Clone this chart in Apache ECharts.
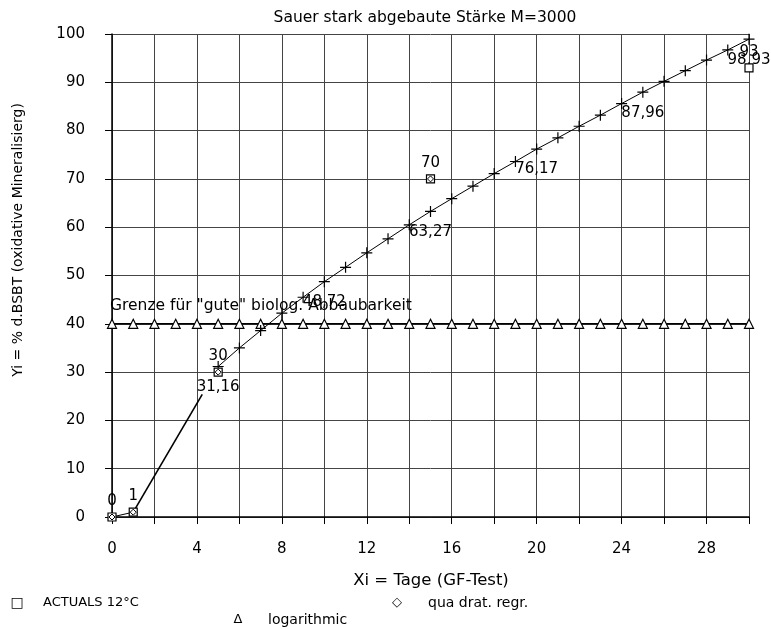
<!DOCTYPE html>
<html>
<head>
<meta charset="utf-8">
<script src="https://cdn.jsdelivr.net/npm/echarts@6/dist/echarts.min.js"></script>
<style>
html,body{margin:0;padding:0;background:#fff;}
#main{width:771px;height:629px;}
</style>
</head>
<body>
<div id="main"></div>
<script>
// ---- data ----
const actualX = [0, 1, 5, 15, 30];
const actualY = [0, 1, 30, 70, 93];
const regrX = [0, 1, 5, 15];
const regrY = [0, 1, 30, 70];
const logX = [0,1,2,3,4,5,6,7,8,9,10,11,12,13,14,15,16,17,18,19,20,21,22,23,24,25,26,27,28,29,30];
const logY = [40,40,40,40,40,40,40,40,40,40,40,40,40,40,40,40,40,40,40,40,40,40,40,40,40,40,40,40,40,40,40];
const curveX = [5,6,7,8,9,10,11,12,13,14,15,16,17,18,19,20,21,22,23,24,25,26,27,28,29,30];
const curveY = [31.16,35.0,38.6,42.2,45.5,48.72,51.7,54.7,57.6,60.5,63.27,65.9,68.5,71.1,73.6,76.17,78.5,80.9,83.2,85.6,87.96,90.2,92.4,94.6,96.7,98.93];
const labelledX = [5, 10, 15, 20, 25, 30];
const leadX = [0, 1];
const leadY = [0, 1];
const trendX = [1, 4.25];
const trendY = [1, 25.4];
const xTicks = [0, 4, 8, 12, 16, 20, 24, 28];

const FONT = 'DejaVu Sans';
const zip = (xs, ys) => xs.map((x, i) => [x, ys[i]]);

const chart = echarts.init(document.getElementById('main'), null, {renderer: 'canvas'});
const plus = 'path://M0,5L10,5M5,0L5,10';

const lbl = {color: '#000', opacity: 1, textBorderWidth: 0, fontFamily: FONT, fontSize: 15};

chart.setOption({
  animation: false,
  backgroundColor: '#fff',
  grid: {left: 112, right: 22, top: 34, bottom: 112, containLabel: false},
  xAxis: {
    type: 'value', min: 0, max: 30, interval: 2,
    axisLine: {show: true, onZero: false, lineStyle: {color: '#000', width: 1.5}},
    axisTick: {show: true, inside: false, length: 7, lineStyle: {color: '#000', width: 1}},
    axisLabel: {
      margin: 25, color: '#000', fontFamily: FONT, fontSize: 15,
      formatter: v => xTicks.indexOf(v) >= 0 ? String(v) : ''
    },
    splitLine: {show: true, lineStyle: {color: '#444', width: 1}}
  },
  yAxis: {
    type: 'value', min: 0, max: 100, interval: 10,
    axisLine: {show: true, lineStyle: {color: '#000', width: 1.5}},
    axisTick: {show: true, inside: false, length: 7, lineStyle: {color: '#000', width: 1}},
    axisLabel: {margin: 27, color: '#000', fontFamily: FONT, fontSize: 15},
    splitLine: {show: true, lineStyle: {color: '#444', width: 1}}
  },
  series: [
    {
      name: 'logarithmic', type: 'line', data: zip(logX, logY),
      symbol: 'triangle', symbolSize: 9, showAllSymbol: true,
      lineStyle: {color: '#000', width: 1.5},
      itemStyle: {color: '#fff', borderColor: '#000', borderWidth: 1.2},
      z: 3
    },
    {
      name: 'lead', type: 'line', data: zip(leadX, leadY), symbol: 'none',
      lineStyle: {color: '#000', width: 1}, z: 3
    },
    {
      name: 'trend', type: 'line', data: zip(trendX, trendY), symbol: 'none',
      lineStyle: {color: '#000', width: 1.6}, z: 3
    },
    {
      name: 'qua drat. regr. curve', type: 'line', data: zip(curveX, curveY),
      symbol: plus, symbolSize: 11, showAllSymbol: true,
      lineStyle: {color: '#000', width: 1},
      itemStyle: {color: 'none', borderColor: '#000', borderWidth: 1.2},
      label: Object.assign({
        show: true, position: 'bottom', distance: 5,
        formatter: p => labelledX.indexOf(p.value[0]) >= 0 ? p.value[1].toFixed(2).replace('.', ',') : ''
      }, lbl),
      z: 4
    },
    {
      name: 'ACTUALS 12°C', type: 'scatter', data: zip(actualX, actualY),
      symbol: 'rect', symbolSize: 8,
      itemStyle: {color: '#fff', borderColor: '#000', borderWidth: 1.2, opacity: 1},
      label: Object.assign({
        show: true, position: 'top', distance: 4,
        formatter: p => String(p.value[1])
      }, lbl),
      z: 5
    },
    {
      name: 'qua drat. regr.', type: 'scatter', data: zip(regrX, regrY),
      symbol: 'diamond', symbolSize: 6,
      itemStyle: {color: '#fff', borderColor: '#000', borderWidth: 1, opacity: 1},
      z: 6
    }
  ],
  graphic: [
    {type: 'text', x: 425, y: 18, style: {text: 'Sauer stark abgebaute Stärke M=3000', fontFamily: FONT, fontSize: 15.5, fill: '#000', textAlign: 'center', textVerticalAlign: 'middle'}},
    {type: 'text', x: 18, y: 240, rotation: Math.PI / 2, style: {text: 'Yi = % d.BSBT (oxidative Mineralisierg)', fontFamily: FONT, fontSize: 14, fill: '#000', textAlign: 'center', textVerticalAlign: 'middle'}},
    {type: 'text', x: 431, y: 581, style: {text: 'Xi = Tage (GF-Test)', fontFamily: FONT, fontSize: 16.5, fill: '#000', textAlign: 'center', textVerticalAlign: 'middle'}},
    {type: 'text', x: 110, y: 306, z: 10, style: {text: 'Grenze für "gute" biolog. Abbaubarkeit', fontFamily: FONT, fontSize: 15.5, fill: '#000', textAlign: 'left', textVerticalAlign: 'middle'}},
    {type: 'text', x: 17, y: 603, style: {text: '□', fontFamily: FONT, fontSize: 14, fill: '#000', textAlign: 'center', textVerticalAlign: 'middle'}},
    {type: 'text', x: 43, y: 603, style: {text: 'ACTUALS 12°C', fontFamily: FONT, fontSize: 13, fill: '#000', textAlign: 'left', textVerticalAlign: 'middle'}},
    {type: 'text', x: 397, y: 603, style: {text: '◇', fontFamily: FONT, fontSize: 13, fill: '#000', textAlign: 'center', textVerticalAlign: 'middle'}},
    {type: 'text', x: 428, y: 603, style: {text: 'qua drat. regr.', fontFamily: FONT, fontSize: 14, fill: '#000', textAlign: 'left', textVerticalAlign: 'middle'}},
    {type: 'text', x: 238, y: 620, style: {text: 'Δ', fontFamily: FONT, fontSize: 13, fill: '#000', textAlign: 'center', textVerticalAlign: 'middle'}},
    {type: 'text', x: 268, y: 620, style: {text: 'logarithmic', fontFamily: FONT, fontSize: 14, fill: '#000', textAlign: 'left', textVerticalAlign: 'middle'}}
  ]
});
</script>
</body>
</html>
